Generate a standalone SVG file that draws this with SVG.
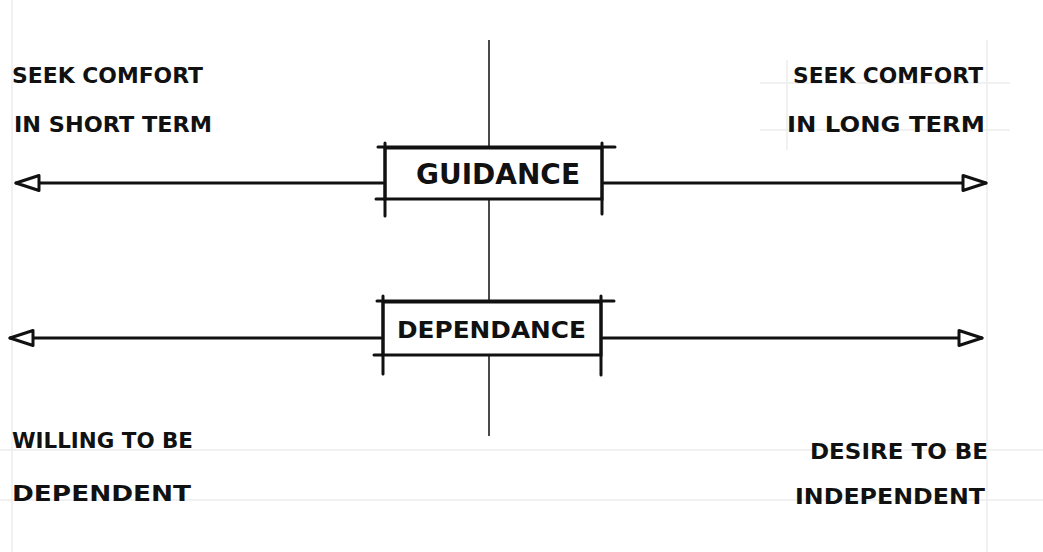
<svg xmlns="http://www.w3.org/2000/svg" width="1043" height="552" viewBox="0 0 1043 552">
  <defs>
    <style>
      .guide { stroke: #ececec; stroke-width: 1.5; fill: none; }
      .axis { stroke: #4a4a4a; stroke-width: 2; fill: none; }
      .line { stroke: #111; stroke-width: 3; fill: none; stroke-linecap: round; }
      .box { stroke: #111; stroke-width: 3; fill: #fff; }
      .lbl { font-family: "DejaVu Sans", "Liberation Sans", sans-serif; font-weight: bold; fill: #111; font-size: 21px; }
    </style>
    <marker id="head" viewBox="0 0 30 20" refX="28" refY="10" markerWidth="30" markerHeight="20" markerUnits="userSpaceOnUse" orient="auto-start-reverse">
      <path d="M5,2.5 L28,10 L5,17.5 Z" fill="#fff" stroke="#111" stroke-width="3" stroke-linejoin="round"/>
    </marker>
  </defs>

  <rect width="1043" height="552" fill="#fff"/>

  <!-- faint ruling -->
  <g id="guides">
    <line class="guide" x1="12" y1="0" x2="12" y2="552"/>
    <line class="guide" x1="987" y1="40" x2="987" y2="552"/>
    <line class="guide" x1="787" y1="60" x2="787" y2="150"/>
    <line class="guide" x1="760" y1="83" x2="1010" y2="83"/>
    <line class="guide" x1="760" y1="130" x2="1010" y2="130"/>
    <line class="guide" x1="0" y1="450" x2="1043" y2="450"/>
    <line class="guide" x1="0" y1="500" x2="1043" y2="500"/>
  </g>

  <!-- vertical divider -->
  <line class="axis" x1="489" y1="40" x2="489" y2="436"/>

  <g id="connectors">
    <line class="line" x1="383" y1="183" x2="16" y2="183" marker-end="url(#head)"/>
    <line class="line" x1="604" y1="183" x2="986" y2="183" marker-end="url(#head)"/>
    <line class="line" x1="381" y1="338" x2="10" y2="338" marker-end="url(#head)"/>
    <line class="line" x1="603" y1="338" x2="982" y2="338" marker-end="url(#head)"/>
  </g>

  <g id="guidance">
    <rect class="box" x="385" y="148" width="217" height="51"/>
    <line class="line" x1="378" y1="147" x2="615" y2="147"/>
    <line class="line" x1="385" y1="143" x2="385" y2="216"/>
    <line class="line" x1="602" y1="143" x2="602" y2="214"/>
    <line class="line" x1="376" y1="199" x2="385" y2="199"/>
    <text class="lbl" x="416" y="184" style="font-size:29px" textLength="164" lengthAdjust="spacingAndGlyphs">GUIDANCE</text>
  </g>

  <g id="dependance">
    <rect class="box" x="383" y="302" width="218" height="53"/>
    <line class="line" x1="377" y1="301" x2="614" y2="301"/>
    <line class="line" x1="383" y1="296" x2="383" y2="374"/>
    <line class="line" x1="601" y1="296" x2="601" y2="375"/>
    <line class="line" x1="374" y1="355" x2="383" y2="355"/>
    <text class="lbl" x="397" y="338" style="font-size:23px" textLength="189" lengthAdjust="spacingAndGlyphs">DEPENDANCE</text>
  </g>

  <g id="short-term">
    <text class="lbl" x="12" y="83" textLength="191" lengthAdjust="spacingAndGlyphs">SEEK COMFORT</text>
    <text class="lbl" x="14" y="132" textLength="198" lengthAdjust="spacingAndGlyphs">IN SHORT TERM</text>
  </g>

  <g id="long-term">
    <text class="lbl" x="793" y="83" textLength="190" lengthAdjust="spacingAndGlyphs">SEEK COMFORT</text>
    <text class="lbl" x="787" y="132" textLength="198" lengthAdjust="spacingAndGlyphs">IN LONG TERM</text>
  </g>

  <g id="willing">
    <text class="lbl" x="12" y="448" textLength="181" lengthAdjust="spacingAndGlyphs">WILLING TO BE</text>
    <text class="lbl" x="12" y="501" textLength="179" lengthAdjust="spacingAndGlyphs">DEPENDENT</text>
  </g>

  <g id="desire">
    <text class="lbl" x="810" y="459" textLength="178" lengthAdjust="spacingAndGlyphs">DESIRE TO BE</text>
    <text class="lbl" x="795" y="504" textLength="190" lengthAdjust="spacingAndGlyphs">INDEPENDENT</text>
  </g>
</svg>
